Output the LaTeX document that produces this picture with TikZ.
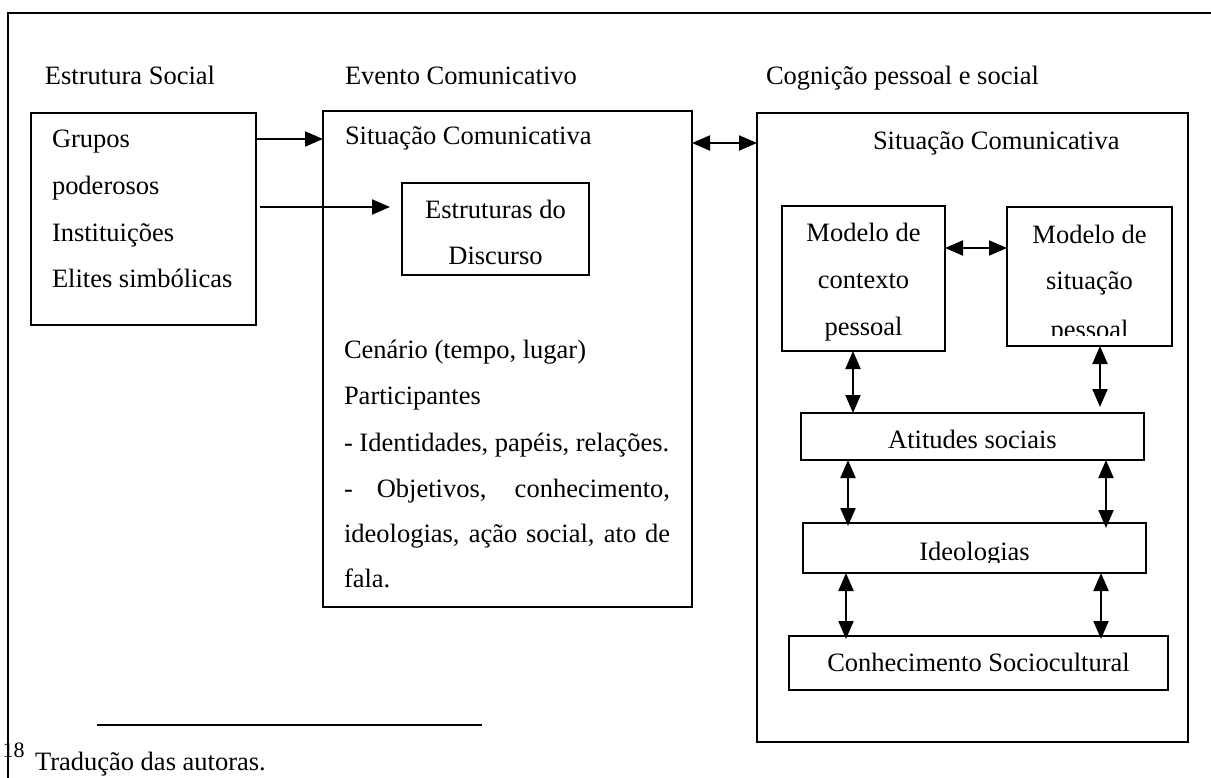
\documentclass[tikz,border=0pt]{standalone}
\usepackage{fontspec}
\setmainfont{Liberation Serif}
\usetikzlibrary{arrows.meta}
\tikzset{
  box/.style={draw, line width=1.8pt, inner sep=0pt, outer sep=0pt, anchor=north west},
  txt/.style={inner sep=0pt, outer sep=0pt, anchor=base west},
  ctxt/.style={inner sep=0pt, outer sep=0pt, anchor=base},
  arr/.style={line width=2pt, -{Triangle[length=18pt,width=15pt]}},
  barr/.style={line width=2pt, {Triangle[length=18pt,width=15pt]}-{Triangle[length=18pt,width=15pt]}},
}
\begin{document}
\begin{tikzpicture}[x=1pt,y=-1pt,font=\fontsize{26.5}{46.7}\selectfont]
\useasboundingbox (0,0) rectangle (1211,778);
\fill[white] (0,0) rectangle (1211,778);
% outer frame
\draw[line width=2.6pt] (8,778) -- (8,13) -- (1211,13);

% headers
\node[txt] (h1) at (45,85) {Estrutura Social};
\node[txt] (h2) at (345,85) {Evento Comunicativo};
\node[txt] (h3) at (766,85) {Cognição pessoal e social};

% Estrutura Social box
\node[box, minimum width=225pt, minimum height=212pt] (es) at (31,113) {};
\node[txt] (es1) at (52,148) {Grupos};
\node[txt] (es2) at (52,195) {poderosos};
\node[txt] (es3) at (52,242) {Instituições};
\node[txt] (es4) at (52,288) {Elites simbólicas};

% Evento Comunicativo box
\node[box, minimum width=369pt, minimum height=496pt] (ev) at (323,111) {};
\node[txt] (ev0) at (345,145) {Situação Comunicativa};
\node[box, minimum width=187pt, minimum height=92pt] (ed) at (402,183) {};
\node[ctxt] (ed1) at (495.5,218.5) {Estruturas do};
\node[ctxt] (ed2) at (495.5,265) {Discurso};
\node[txt] (ev1) at (344,358) {Cenário (tempo, lugar)};
\node[txt] (ev2) at (344,404.5) {Participantes};
\node[txt] (ev3) at (344,451) {- Identidades, papéis, relações.};
\node[txt] (ev4) at (344,497) {\makebox[326pt][s]{- Objetivos, conhecimento,}};
\node[txt] (ev5) at (344,542) {\makebox[326pt][s]{ideologias, ação social, ato de}};
\node[txt] (ev6) at (344,587) {fala.};

% Cognicao box
\node[box, minimum width=431pt, minimum height=629pt] (cg) at (757,113) {};
\node[txt] (cg0) at (873,149.5) {Situação Comunicativa};

\node[box, minimum width=163pt, minimum height=145pt] (mc) at (782,206) {};
\node[ctxt] (mc1) at (863.5,242) {Modelo de};
\node[ctxt] (mc2) at (863.5,288.5) {contexto};
\node[ctxt] (mc3) at (863.5,335) {pessoal};

\node[box, minimum width=165pt, minimum height=139pt] (ms) at (1007,207) {};
\node[ctxt] (ms1) at (1089.5,243.5) {Modelo de};
\node[ctxt] (ms2) at (1089.5,290) {situação};
\begin{scope}
  \clip (1008,300) rectangle (1171,335);
  \node[ctxt] (ms3) at (1089.5,338) {pessoal};
\end{scope}

\node[box, minimum width=343pt, minimum height=47pt] (at) at (801,413) {};
\node[ctxt] (at1) at (972.5,448.5) {Atitudes sociais};

\node[box, minimum width=343pt, minimum height=50pt] (id) at (803,523) {};
\begin{scope}
  \clip (804,524) rectangle (1145,562);
  \node[ctxt] (id1) at (974.5,560.5) {Ideologias};
\end{scope}

\node[box, minimum width=379pt, minimum height=54pt] (ck) at (789,636) {};
\node[ctxt] (ck1) at (978.5,671) {Conhecimento Sociocultural};

% connectors
\draw[arr] (es.east |- 0,139) -- (ev.west |- 0,139);
\coordinate (a2s) at (260,207);
\coordinate (a2e) at (390,207);
\draw[arr] (a2s) -- (a2e);
\draw[barr] (ev.east |- 0,143) -- (cg.west |- 0,143);
\draw[barr] (mc.east |- 0,248) -- (ms.west |- 0,248);

\draw[barr] (853,0 |- mc.south) -- (853,0 |- at.north);
\draw[barr, shorten >=6pt] (1100,0 |- ms.south) -- (1100,0 |- at.north);
\draw[barr] (848,0 |- at.south) -- ([yshift=-3pt]848,0 |- id.north);
\draw[barr] (1106,0 |- at.south) -- ([yshift=-5pt]1106,0 |- id.north);
\draw[barr] (846,0 |- id.south) -- ([yshift=-3pt]846,0 |- ck.north);
\draw[barr] (1101,0 |- id.south) -- ([yshift=-3pt]1101,0 |- ck.north);

% footnote
\coordinate (fl1) at (97,725);
\coordinate (fl2) at (482,725);
\draw[line width=2.2pt] (fl1) -- (fl2);
\node[txt, font=\fontsize{22}{24}\selectfont] (fn0) at (2.5,757) {18};
\node[txt] (fn1) at (35,770) {Tradução das autoras.};
\end{tikzpicture}
\end{document}
